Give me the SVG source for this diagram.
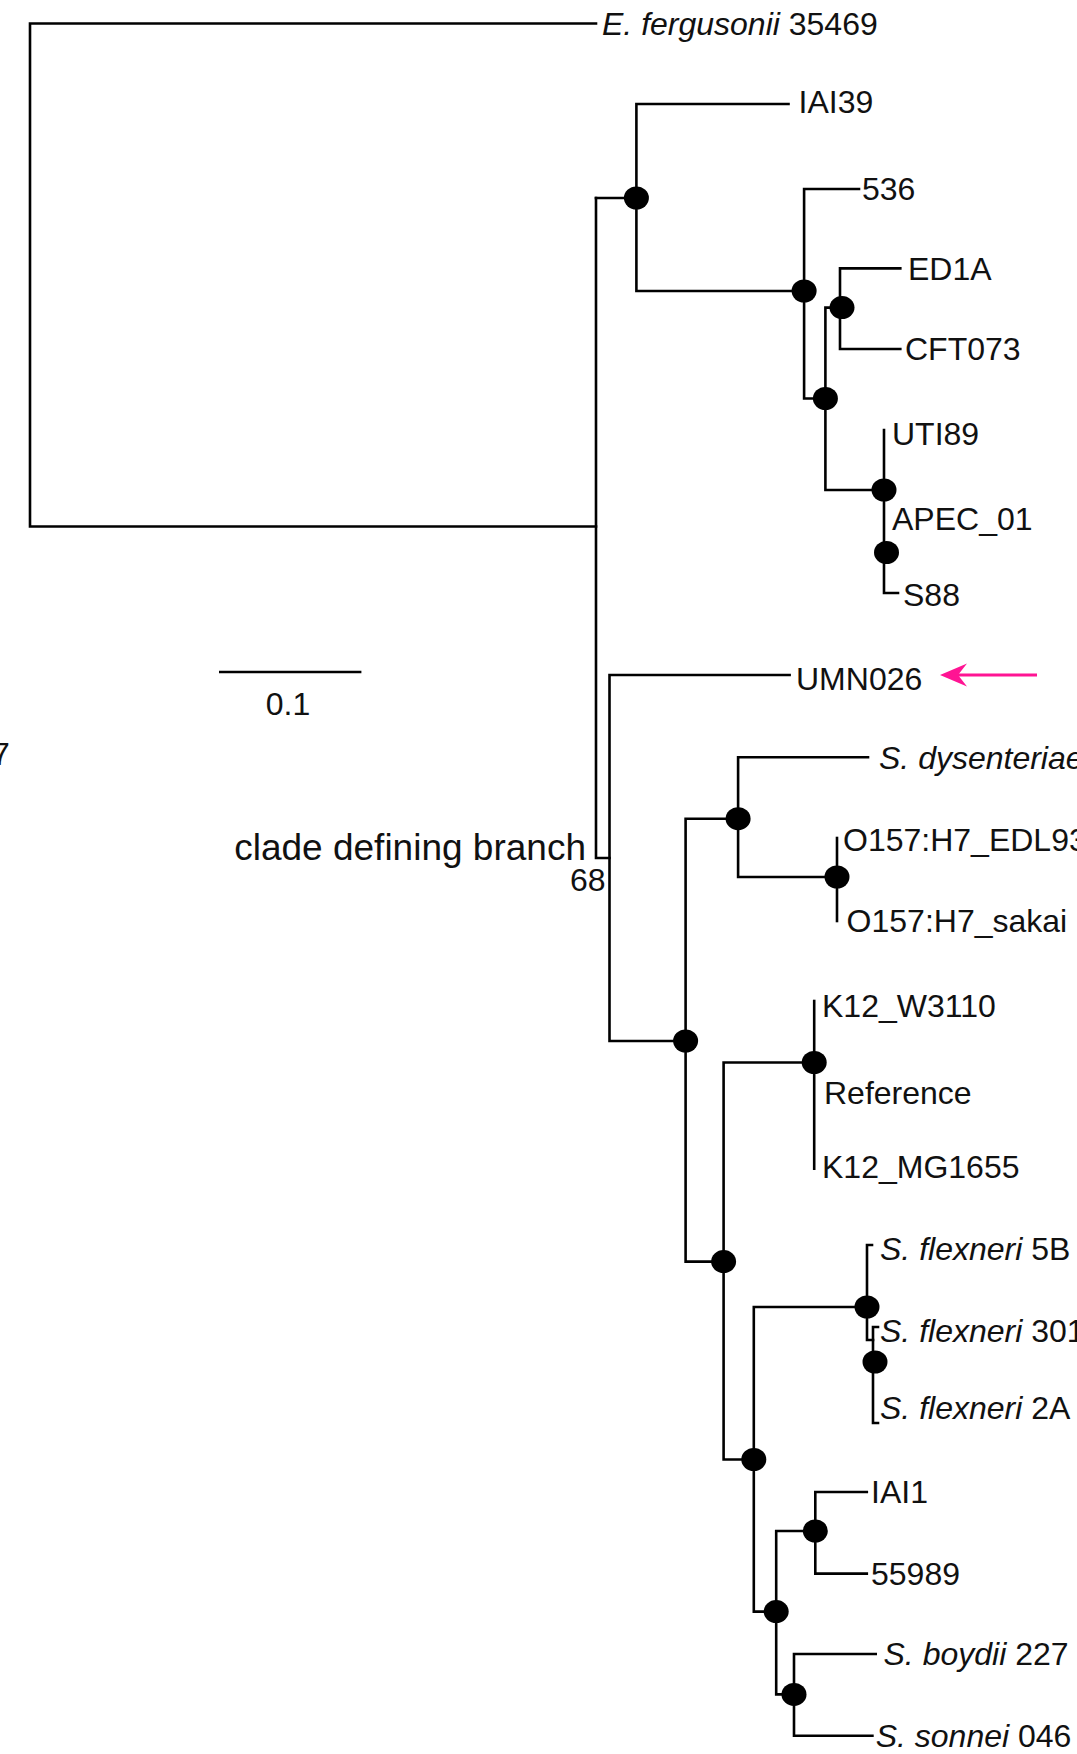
<svg xmlns="http://www.w3.org/2000/svg" width="1077" height="1754" viewBox="0 0 1077 1754">
<style>
.br{stroke:#000;stroke-width:2.6;fill:none;stroke-linecap:square}
.dot{fill:#000}
.lbl{font-family:"Liberation Sans",Arial,sans-serif;font-size:32px;fill:#111}
.it{font-style:italic}
</style>
<rect width="1077" height="1754" fill="#fff"/>
<g id="connectors">
<path class="br" d="M596,23.5 H30 V526.5 H596"/>
<path class="br" d="M596,198 V858 H609.5"/>
<path class="br" d="M596,198 H636.4"/>
<path class="br" d="M788.5,104 H636.4 V291 H804.1"/>
<path class="br" d="M859,189 H804.1 V398.5 H825.4"/>
<path class="br" d="M840,307.6 H825.4 V490 H884"/>
<path class="br" d="M900.3,268.4 H840 V349 H900.3"/>
<path class="br" d="M884,430 V593 H898"/>
<path class="br" d="M789.6,675 H609.5 V1041 H685.6"/>
<path class="br" d="M738.1,818.7 H685.6 V1261.6 H723.6"/>
<path class="br" d="M868,757.2 H738.1 V877 H837"/>
<path class="br" d="M837,838 V921"/>
<path class="br" d="M814.2,1001 V1168.7"/>
<path class="br" d="M814.2,1062.5 H723.6 V1459.5 H753.8"/>
<path class="br" d="M866.8,1307 H753.8 V1611.6 H776.2"/>
<path class="br" d="M872,1245 H867 V1340 H873"/>
<path class="br" d="M878,1327 H873 V1423 H878"/>
<path class="br" d="M815.3,1531 H776.2 V1694.4 H794"/>
<path class="br" d="M866.8,1492 H815.3 V1573.6 H866.8"/>
<path class="br" d="M875.7,1654 H794 V1735.8 H872.4"/>
<path d="M1037,675 H956" stroke="#ff1493" stroke-width="3" fill="none"/>
<polygon points="940,675 967,663.5 958,675 967,686.5" fill="#ff1493"/>
</g>
<g id="nodes">
<ellipse id="nA" class="dot" cx="636.4" cy="198" rx="12.5" ry="11.5"/>
<ellipse id="nB" class="dot" cx="804.1" cy="291" rx="12.5" ry="11.5"/>
<ellipse id="nC" class="dot" cx="825.4" cy="398.5" rx="12.5" ry="11.5"/>
<ellipse id="nD" class="dot" cx="842" cy="307.6" rx="12.5" ry="11.5"/>
<ellipse id="nE" class="dot" cx="884" cy="490" rx="12.5" ry="11.5"/>
<ellipse id="nF" class="dot" cx="886.5" cy="552.5" rx="12.5" ry="11.5"/>
<ellipse id="nG" class="dot" cx="685.6" cy="1041" rx="12.5" ry="11.5"/>
<ellipse id="nH" class="dot" cx="738.1" cy="818.7" rx="12.5" ry="11.5"/>
<ellipse id="nI" class="dot" cx="837" cy="877" rx="12.5" ry="11.5"/>
<ellipse id="nK12" class="dot" cx="814.2" cy="1062.5" rx="12.5" ry="11.5"/>
<ellipse id="nJ" class="dot" cx="723.6" cy="1261.6" rx="12.5" ry="11.5"/>
<ellipse id="nK" class="dot" cx="753.8" cy="1459.5" rx="12.5" ry="11.5"/>
<ellipse id="nL1" class="dot" cx="867" cy="1307" rx="12.5" ry="11.5"/>
<ellipse id="nL2" class="dot" cx="875" cy="1362" rx="12.5" ry="11.5"/>
<ellipse id="nM" class="dot" cx="776.2" cy="1611.6" rx="12.5" ry="11.5"/>
<ellipse id="nN" class="dot" cx="815.3" cy="1531" rx="12.5" ry="11.5"/>
<ellipse id="nO" class="dot" cx="794" cy="1694.4" rx="12.5" ry="11.5"/>
</g>
<g id="labels" class="lbl">
<text id="t-efer" x="602" y="35"><tspan class="it">E. fergusonii</tspan> 35469</text>
<text id="t-iai39" x="798.5" y="113">IAI39</text>
<text id="t-536" x="862" y="200">536</text>
<text id="t-ed1a" x="908" y="279.7">ED1A</text>
<text id="t-cft" x="905" y="360">CFT073</text>
<text id="t-uti" x="892" y="445">UTI89</text>
<text id="t-apec" x="892" y="530">APEC_01</text>
<text id="t-s88" x="903" y="606">S88</text>
<text id="t-umn" x="796" y="690">UMN026</text>
<text id="t-dys" x="879" y="769" class="it">S. dysenteriae</text>
<text id="t-edl" x="843" y="851">O157:H7_EDL93</text>
<text id="t-sakai" x="846.6" y="932">O157:H7_sakai</text>
<text id="t-w3110" x="822" y="1016.5">K12_W3110</text>
<text id="t-ref" x="824" y="1104">Reference</text>
<text id="t-mg" x="822" y="1178">K12_MG1655</text>
<text id="t-5b" x="880" y="1260"><tspan class="it">S. flexneri</tspan> 5B</text>
<text id="t-301" x="880" y="1342"><tspan class="it">S. flexneri</tspan> 301</text>
<text id="t-2a" x="880" y="1419"><tspan class="it">S. flexneri</tspan> 2A</text>
<text id="t-iai1" x="871" y="1503">IAI1</text>
<text id="t-55989" x="871" y="1585">55989</text>
<text id="t-boy" x="883.5" y="1665"><tspan class="it">S. boydii</tspan> 227</text>
<text id="t-son" x="875.7" y="1747"><tspan class="it">S. sonnei</tspan> 046</text>
<text id="t-68" x="570" y="891">68</text>
<text id="t-7" x="-8" y="765">7</text>
</g>
<g id="scale">
<path class="br" d="M220.3,672 H360.1" stroke-linecap="butt"/>
<text class="lbl" x="288" y="715" text-anchor="middle">0.1</text>
</g>
<text id="t-clade" class="lbl" x="586" y="860" text-anchor="end" style="font-size:37px">clade defining branch</text>
</svg>
